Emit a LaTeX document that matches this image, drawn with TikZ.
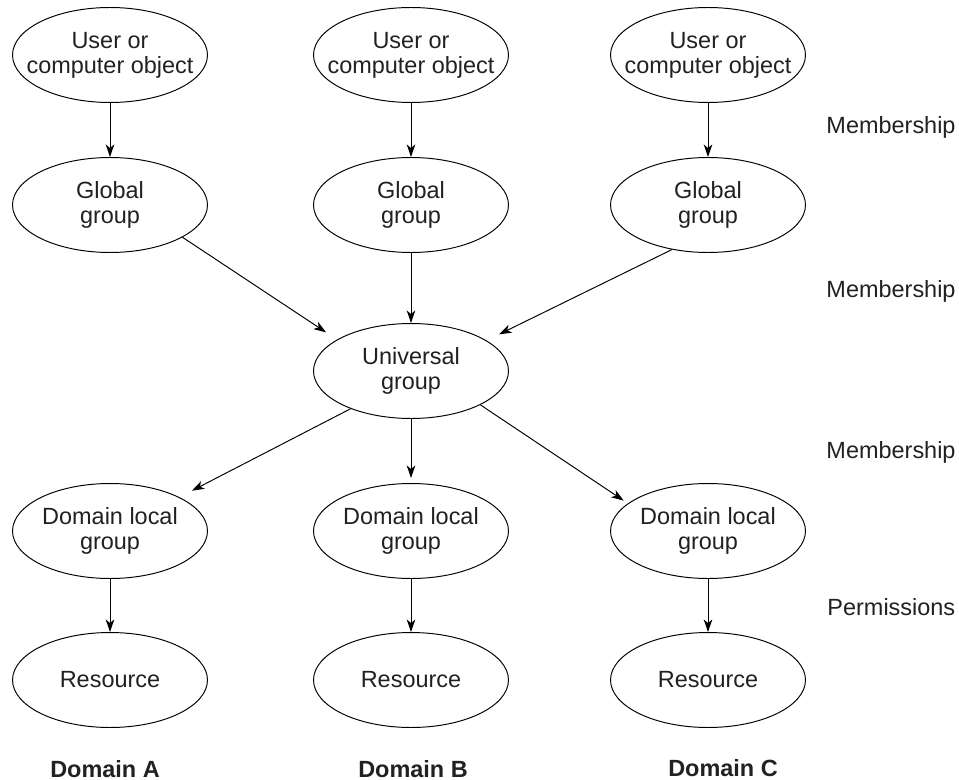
\documentclass[tikz,border=0pt]{standalone}
\usepackage{fontspec}
\setmainfont{Liberation Sans}
\usetikzlibrary{shapes.geometric,arrows.meta}

\begin{document}
\begin{tikzpicture}[x=0.02cm, y=-0.02cm,
  font=\fontsize{13.35pt}{14.2pt}\selectfont,
  line width=0.55pt, text=black!87,
  grp/.style={ellipse, draw, align=center, minimum width=3.9cm, minimum height=1.9cm, inner xsep=-0.4cm, inner ysep=0pt},
  side/.style={anchor=base west, inner sep=0pt},
  dom/.style={anchor=base, inner sep=0pt, font=\fontsize{13.35pt}{14.2pt}\selectfont\bfseries},
  >={Stealth[length=0.25cm, width=0.17cm, inset=0.07cm]}]
\useasboundingbox (0,0) rectangle (959,780);

\node[grp] (o1) at (110, 55) {User or\\computer object};
\node[grp] (o2) at (411, 55) {User or\\computer object};
\node[grp] (o3) at (708, 55) {User or\\computer object};
\node[grp] (g1) at (110, 205) {Global\\group};
\node[grp] (g2) at (411, 205) {Global\\group};
\node[grp] (g3) at (708, 205) {Global\\group};
\node[grp] (u) at (411, 371) {Universal\\group};
\node[grp] (l1) at (110, 531) {Domain local\\group};
\node[grp] (l2) at (411, 531) {Domain local\\group};
\node[grp] (l3) at (708, 531) {Domain local\\group};
\node[grp] (r1) at (110, 680) {Resource};
\node[grp] (r2) at (411, 680) {Resource};
\node[grp] (r3) at (708, 680) {Resource};

\node[side] (m1) at (826, 134) {Membership};
\node[side] (m2) at (826, 297) {Membership};
\node[side] (m3) at (826, 458) {Membership};
\node[side] (p) at (827, 615) {Permissions};

\node[dom] (da) at (105, 777) {Domain A};
\node[dom] (db) at (413, 777) {Domain B};
\node[dom] (dc) at (723, 776) {Domain C};

\draw (o1) to (g1) [->];
\draw (o2) to (g2) [->];
\draw (o3) to (g3) [->];

\draw (g1.-24) to (u.157) [->, shorten >=0.26cm];
\draw (g2) to (u) [->];
\draw (g3.231) to (u.22) [->, shorten >=0.28cm];

\draw (u.212.5) to (l1.26.6) [->, shorten >=0.28cm];
\draw (u) to (l2) [->, shorten >=0.1cm];
\draw (u.-26.2) to (l3.161.8) [->, shorten >=0.1cm];

\draw (l1) to (r1) [->];
\draw (l2) to (r2) [->];
\draw (l3) to (r3) [->];

\end{tikzpicture}
\end{document}
